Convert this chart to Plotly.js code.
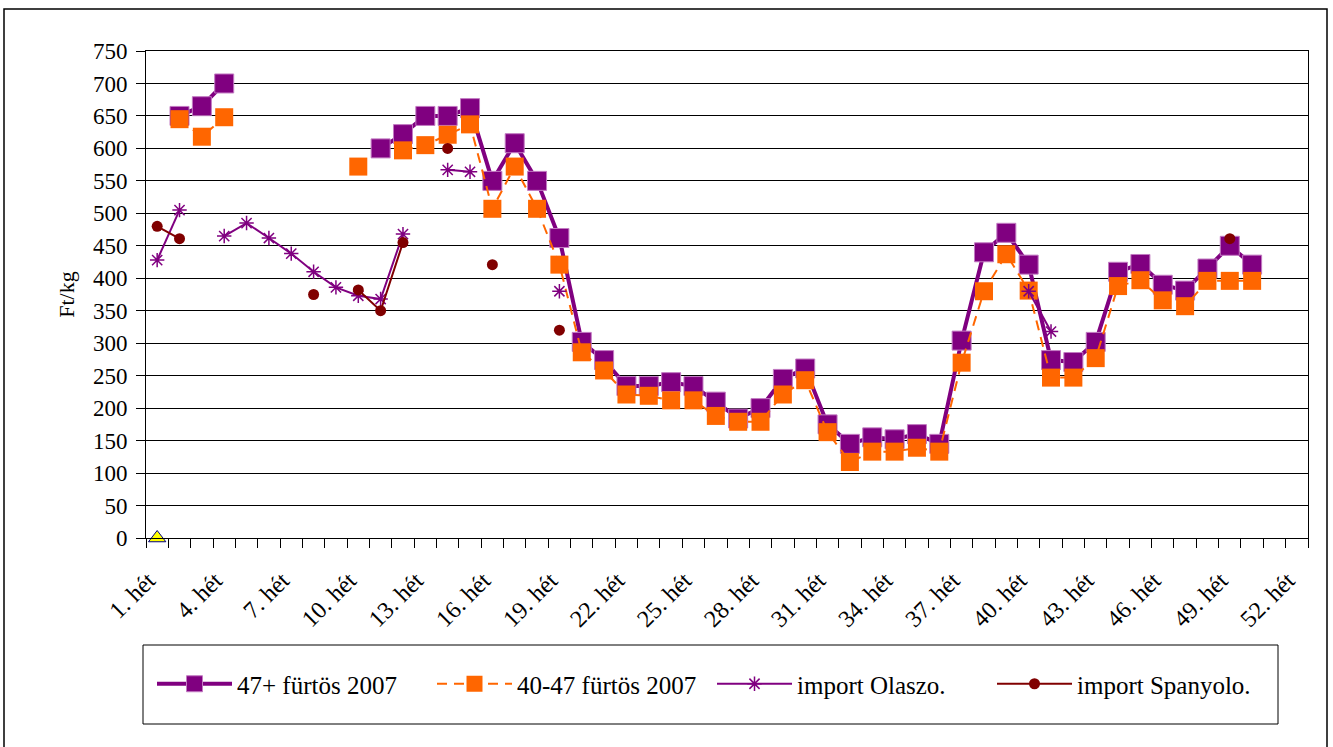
<!DOCTYPE html>
<html>
<head>
<meta charset="utf-8">
<script src="https://cdn.plot.ly/plotly-3.0.1.min.js"></script>
<style>
html,body{margin:0;padding:0;background:#fff;}
#chart{width:1333px;height:747px;}
</style>
</head>
<body>
<div id="chart"></div>
<script>
// Categories (weeks)
const weeks = ["1. hét","2. hét","3. hét","4. hét","5. hét","6. hét","7. hét","8. hét","9. hét","10. hét",
"11. hét","12. hét","13. hét","14. hét","15. hét","16. hét","17. hét","18. hét","19. hét","20. hét",
"21. hét","22. hét","23. hét","24. hét","25. hét","26. hét","27. hét","28. hét","29. hét","30. hét",
"31. hét","32. hét","33. hét","34. hét","35. hét","36. hét","37. hét","38. hét","39. hét","40. hét",
"41. hét","42. hét","43. hét","44. hét","45. hét","46. hét","47. hét","48. hét","49. hét","50. hét",
"51. hét","52. hét"];
// Shown tick labels (every third week)
const tickLabels = ["1. hét","","","4. hét","","","7. hét","","","10. hét",
"","","13. hét","","","16. hét","","","19. hét","",
"","22. hét","","","25. hét","","","28. hét","","",
"31. hét","","","34. hét","","","37. hét","","","40. hét",
"","","43. hét","","","46. hét","","","49. hét","",
"","52. hét"];

// Series values (Ft/kg)
const s47plus = [null,650,665,700,null,null,null,null,null,null,
600,622,650,650,662,550,608,550,462,302,
274,234,234,240,234,210,184,200,245,261,
175,145,155,152,160,145,304,440,470,421,
274,271,302,410,422,390,381,415,450,421,
null,null];
const s4047 = [null,645,618,648,null,null,null,null,null,572,
null,597,605,621,637,507,572,507,421,286,
258,221,219,212,212,188,179,179,221,243,
163,117,133,133,139,133,270,380,437,381,
247,247,277,388,397,366,357,396,396,396,
null,null];
const importOlasz = [428,505,null,465,485,462,438,410,386,373,
368,468,null,567,564,null,null,null,380,null,
null,null,null,null,null,null,null,null,null,null,
null,null,null,null,null,null,null,null,null,380,
318,null,null,null,null,null,null,null,null,null,
null,null];
const importSpany = [480,461,null,null,null,null,null,375,null,382,
350,455,null,600,null,421,null,null,320,null,
null,null,null,null,null,null,null,null,null,null,
null,null,null,null,null,null,null,null,null,null,
null,null,null,null,null,null,null,null,461,null,
null,null];
const extraSeries = [0,null,null,null,null,null,null,null,null,null,
null,null,null,null,null,null,null,null,null,null,
null,null,null,null,null,null,null,null,null,null,
null,null,null,null,null,null,null,null,null,null,
null,null,null,null,null,null,null,null,null,null,
null,null];

const yTicks = [0,50,100,150,200,250,300,350,400,450,500,550,600,650,700,750];

const FONT = "Liberation Serif";

const traces = [
  {x: weeks, y: s47plus, name: "47+ fürtös 2007", type: "scatter", mode: "lines+markers",
   line: {color: "#800080", width: 4},
   marker: {symbol: "square", size: 19, color: "#800080", line: {color: "#c27ac2", width: 1}}},
  {x: weeks, y: s4047, name: "40-47 fürtös 2007", type: "scatter", mode: "lines+markers",
   line: {color: "#FF6600", width: 2, dash: "10px,7px"},
   marker: {symbol: "square", size: 18, color: "#FF6600"}},
  {x: weeks, y: importOlasz, name: "import Olaszo.", type: "scatter", mode: "lines+markers",
   line: {color: "#800080", width: 2},
   marker: {symbol: "asterisk-open", size: 12, color: "#800080", line: {color: "#800080", width: 1.5}}},
  {x: weeks, y: importSpany, name: "import Spanyolo.", type: "scatter", mode: "lines+markers",
   line: {color: "#800000", width: 2},
   marker: {symbol: "circle", size: 11, color: "#800000"}},
  {x: weeks, y: extraSeries, name: "", type: "scatter", mode: "markers", showlegend: false,
   cliponaxis: false,
   marker: {symbol: "triangle-up", size: 15, color: "#FFFF00", line: {color: "#000080", width: 1}}}
];

// plot area: left 146, right 1308, top 51, bottom 538
const L = 146, R = 1308, T = 51, B = 538;
const W = R - L, H = B - T;
const px = x => (x - L) / W;
const py = y => (B - y) / H;

const layout = {
  width: 1333, height: 747,
  margin: {l: L, r: 1333 - R, t: T, b: 747 - B},
  paper_bgcolor: "#ffffff", plot_bgcolor: "#ffffff",
  font: {family: FONT, color: "#000000", size: 22},
  showlegend: true,
  legend: {orientation: "h", x: px(152), xanchor: "left", y: py(684), yanchor: "middle",
           font: {family: FONT, size: 25, color: "#000"}, bgcolor: "rgba(0,0,0,0)",
           borderwidth: 0, itemwidth: 75, entrywidth: 190, traceorder: "normal"},
  xaxis: {type: "category", range: [-0.5, 51.5], tickmode: "array", tickvals: weeks, ticktext: tickLabels,
          tickangle: -45, tickson: "boundaries", ticks: "outside", ticklen: 9, tickcolor: "#000", tickwidth: 1,
          showgrid: false, showline: true, linecolor: "#000", linewidth: 1, mirror: true,
          ticklabelstandoff: 18, ticklabelshift: -9,
          tickfont: {family: FONT, size: 24, color: "#000"}, zeroline: false, fixedrange: true},
  yaxis: {range: [0, 750], tickmode: "array", tickvals: yTicks, ticks: "outside", ticklen: 9,
          tickcolor: "#000", tickwidth: 1, showgrid: true, gridcolor: "#000", gridwidth: 1,
          showline: true, linecolor: "#000", linewidth: 1, mirror: true, zeroline: false,
          tickfont: {family: FONT, size: 23, color: "#000"}, ticklabelstandoff: 4,
          title: {text: "Ft/kg", font: {family: FONT, size: 22, color: "#000"}, standoff: 12},
          fixedrange: true},
  shapes: [
    {type: "rect", xref: "paper", yref: "paper", x0: px(4), x1: px(1327), y0: py(752), y1: py(9),
     line: {color: "#000", width: 1.5}, fillcolor: "rgba(0,0,0,0)", layer: "below"},
    {type: "rect", xref: "paper", yref: "paper", x0: px(143), x1: px(1278), y0: py(724), y1: py(645),
     line: {color: "#000", width: 1}, fillcolor: "rgba(0,0,0,0)"}
  ]
};

Plotly.newPlot("chart", traces, layout, {displayModeBar: false, staticPlot: true});
</script>
</body>
</html>
